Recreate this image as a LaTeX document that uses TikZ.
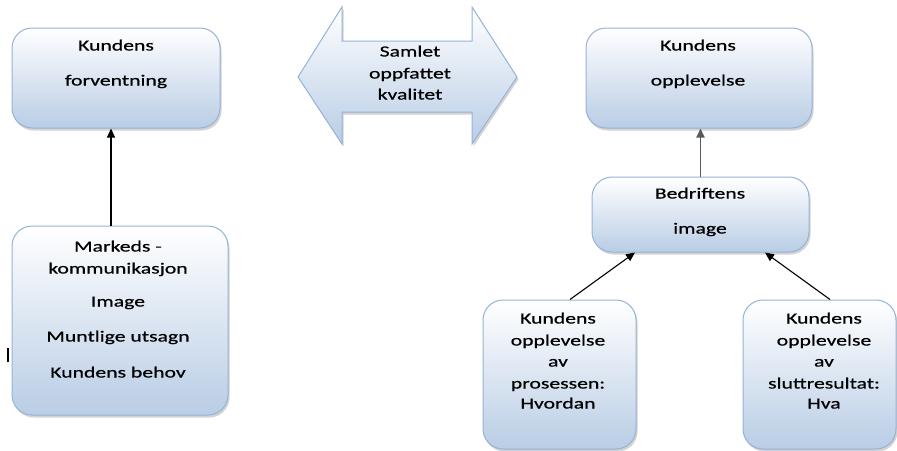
\documentclass[tikz,border=0pt]{standalone}
\usepackage{fontspec}
\setmainfont{Carlito}[FakeStretch=1.4,FakeBold=0.6]
\usepackage{tikz}
\usetikzlibrary{arrows.meta,shadows}
\usepackage{xcolor}
\definecolor{BoxBottom}{HTML}{B9CDE5}
\definecolor{BoxEdge}{HTML}{95B3D7}

\begin{document}
\begin{tikzpicture}[x=1pt,y=-1pt,
    boks/.style={rounded corners=20pt,draw=BoxEdge,line width=1pt,top color=white,bottom color=BoxBottom,
        drop shadow={opacity=0.35,shadow xshift=1.5pt,shadow yshift=-2.5pt},inner sep=0pt},
    tekst/.style={font=\fontsize{15.5}{18}\selectfont,text height=11pt,text depth=4pt,inner sep=0pt},
    pil/.style={-{Triangle[length=9pt,width=8pt]},line width=1.1pt}]
    \useasboundingbox (0,0) rectangle (897,450);
    \clip (0,0) rectangle (897,450);

    % boxes
    \node[boks,minimum width=208pt,minimum height=100pt] (forv) at (116,78) {};
    \node[boks,minimum width=226pt,minimum height=100pt] (oppl) at (699,78) {};
    \node[boks,minimum width=217pt,minimum height=75pt] (bedr) at (700.5,214.5) {};
    \node[boks,minimum width=216pt,minimum height=189pt] (mark) at (120,320.5) {};
    \node[boks,minimum width=153pt,minimum height=149pt] (proc) at (559.5,374.5) {};
    \node[boks,minimum width=153pt,minimum height=149pt] (res) at (819.5,374.5) {};

    % double arrow
    \draw[boks,rounded corners=0pt] (298,77) -- (342,7) -- (342,41) -- (472,41) -- (472,7) -- (517,77)
        -- (472,144) -- (472,112) -- (342,112) -- (342,144) -- cycle;

    % texts
    \foreach \txt/\yy [count=\i] in {Kundens/47,forventning/82}
        \node[tekst] (forv\i) at (116,\yy) {\txt};
    \foreach \txt/\yy [count=\i] in {Samlet/53,oppfattet/75,kvalitet/96}
        \node[tekst] (sam\i) at (410,\yy) {\txt};
    \foreach \txt/\yy [count=\i] in {Kundens/47,opplevelse/82}
        \node[tekst] (oppl\i) at (698,\yy) {\txt};
    \foreach \txt/\yy [count=\i] in {Bedriftens/195,image/230}
        \node[tekst] (bedr\i) at (700,\yy) {\txt};
    \foreach \txt/\yy [count=\i] in {Markeds -/248,kommunikasjon/270,Image/303,Muntlige utsagn/338,Kundens behov/374}
        \node[tekst] (mark\i) at (118,\yy) {\txt};
    \foreach \txt/\yy [count=\i] in {Kundens/320,opplevelse/342,av/363,prosessen:/385,Hvordan/405}
        \node[tekst] (proc\i) at (558,\yy) {\txt};
    \foreach \txt/\yy [count=\i] in {Kundens/320,opplevelse/342,av/363,sluttresultat:/385,Hva/405}
        \node[tekst] (res\i) at (824,\yy) {\txt};

    % arrows
    \draw[pil] ([xshift=-9pt]mark.north) -- ([xshift=-5pt]forv.south);
    \draw[pil,line width=1.8pt,black!65] (bedr.north) -- (bedr.north |- oppl.south);
    \draw[pil] ([xshift=10.5pt]proc.north) -- ([xshift=-65.5pt]bedr.south);
    \draw[pil] ([xshift=10.5pt]res.north) -- ([xshift=64.5pt]bedr.south);

    \draw[line width=2pt] (8,348) -- (8,362);
\end{tikzpicture}
\end{document}
